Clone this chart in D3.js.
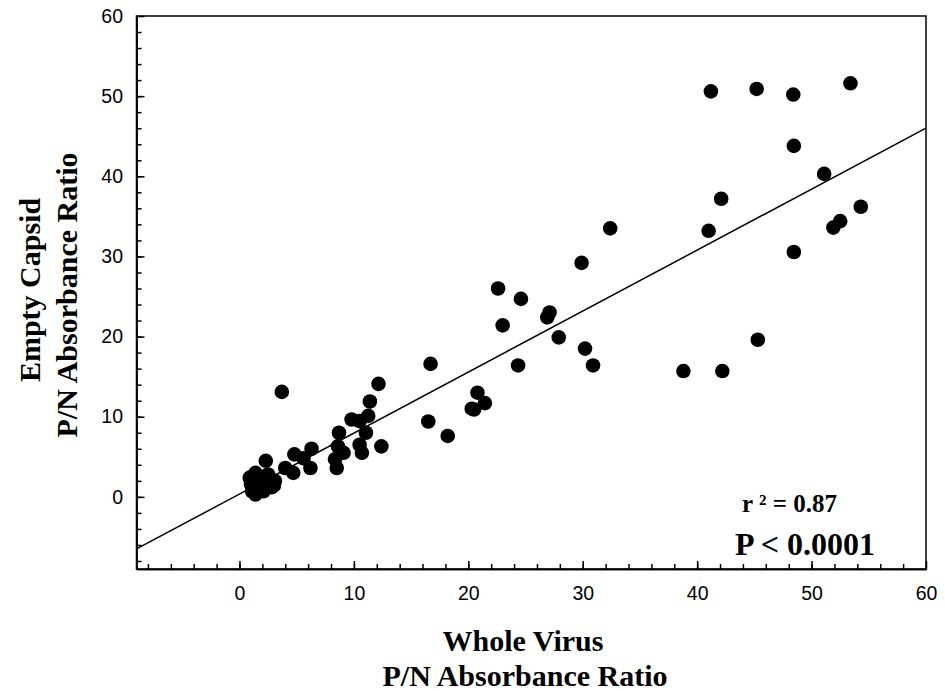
<!DOCTYPE html>
<html>
<head>
<meta charset="utf-8">
<script src="https://cdn.jsdelivr.net/npm/d3@7"></script>
<style>
  body { margin: 0; background: #fff; }
  .tick text { font-family: "Liberation Sans", Arial, sans-serif; font-size: 19.5px; fill: #000; }
  .title { font-family: "Liberation Serif", "Times New Roman", serif; font-weight: bold; fill: #000; }
</style>
</head>
<body>
<div id="chart"></div>
<script>
// whole virus P/N ratio (x) vs empty capsid P/N ratio (y)
var wholeVirus = [
  0.9, 1.0, 1.1, 1.4, 1.4, 1.8, 2.1, 2.3, 2.5, 2.8, 3.1, 1.2, 1.6, 2.0, 2.4, 3.0,
  4.0, 4.7, 4.8, 5.6, 6.3, 6.2, 3.7,
  8.35, 8.5, 8.6, 8.7, 9.1, 9.8, 10.5, 10.5, 10.7, 11.05, 11.25, 11.4, 12.15, 12.4,
  16.5, 16.7, 18.2, 20.3, 20.5, 20.8, 21.45,
  22.6, 23.0, 24.35, 24.6, 26.9, 27.1, 27.9, 29.9, 30.2, 30.9, 32.4,
  38.8, 41.0, 41.2, 42.1, 42.2, 45.2, 45.3, 48.4, 48.45, 48.45, 51.1, 51.9, 52.5, 53.4, 54.3
]
var emptyCapsid = [
  2.4, 1.6, 0.7, 0.3, 3.0, 2.0, 0.7, 4.5, 2.8, 1.2, 2.0, 1.2, 1.6, 1.3, 2.2, 1.4,
  3.6, 3.0, 5.3, 4.8, 6.0, 3.6, 13.1,
  4.7, 3.6, 6.3, 8.0, 5.5, 9.65, 9.45, 6.5, 5.5, 8.0, 10.1, 11.9, 14.1, 6.3,
  9.4, 16.6, 7.6, 11.0, 10.9, 13.0, 11.7,
  26.0, 21.4, 16.4, 24.7, 22.4, 23.0, 19.9, 29.2, 18.5, 16.4, 33.5,
  15.7, 33.2, 50.6, 37.2, 15.7, 50.9, 19.6, 50.2, 43.8, 30.55, 40.3, 33.6, 34.4, 51.6, 36.2
]
var majorTicks = [0, 10, 20, 30, 40, 50, 60]
var minorTicks = d3.range(-8, 60, 2)
var fitSlope = 0.761
var fitIntercept = 0.35
var statLines = ["r \u00B2 = 0.87", "P < 0.0001"]

var width = 945, height = 691
var svg = d3.select("#chart").append("svg").attr("width", width).attr("height", height)

var x = d3.scaleLinear().domain([-9, 60]).range([136.5, 926])
var y = d3.scaleLinear().domain([-9, 60]).range([569, 16])

// minor ticks first, majors on top
svg.append("g").attr("transform", "translate(0,569)")
  .call(d3.axisBottom(x).tickValues(minorTicks).tickSize(-5).tickSizeOuter(0).tickFormat(""))
svg.append("g").attr("transform", "translate(136.5,0)")
  .call(d3.axisLeft(y).tickValues(minorTicks).tickSize(-5).tickSizeOuter(0).tickFormat(""))

svg.append("g").attr("transform", "translate(0,569)")
  .call(d3.axisBottom(x).tickValues(majorTicks).tickSize(-8).tickSizeOuter(0).tickPadding(17))
svg.append("g").attr("transform", "translate(136.5,0)")
  .call(d3.axisLeft(y).tickValues(majorTicks).tickSize(-8).tickSizeOuter(0).tickPadding(13.5))

svg.selectAll(".domain, .tick line").attr("stroke", "#000").attr("stroke-width", 1.5)

// box around the plot
svg.append("rect")
  .attr("x", x(-9)).attr("y", y(60))
  .attr("width", x(60) - x(-9)).attr("height", y(-9) - y(60))
  .attr("fill", "none").attr("stroke", "#000").attr("stroke-width", 1.5)

// regression line
svg.append("line")
  .attr("x1", x(-9)).attr("y1", y(fitSlope * -9 + fitIntercept))
  .attr("x2", x(60)).attr("y2", y(fitSlope * 60 + fitIntercept))
  .attr("stroke", "#000").attr("stroke-width", 1.5)

svg.selectAll(".dot")
  .data(wholeVirus)
  .enter().append("circle")
  .attr("class", "dot")
  .attr("cx", function(d) { return x(d) })
  .attr("cy", function(d, i) { return y(emptyCapsid[i]) })
  .attr("r", 7.3)
  .attr("fill", "#000")

// stats
svg.append("text").attr("class", "title").attr("x", 742).attr("y", 512)
  .attr("font-size", "25px").text(statLines[0])
svg.append("text").attr("class", "title").attr("x", 735).attr("y", 555)
  .attr("font-size", "32px").text(statLines[1])

// axis titles
svg.append("text").attr("class", "title").attr("text-anchor", "middle")
  .attr("x", 523).attr("y", 651).attr("font-size", "30px").text("Whole Virus")
svg.append("text").attr("class", "title").attr("text-anchor", "middle")
  .attr("x", 525).attr("y", 686).attr("font-size", "30px").text("P/N Absorbance Ratio")

svg.append("text").attr("class", "title").attr("text-anchor", "middle")
  .attr("transform", "translate(40,290) rotate(-90)").attr("font-size", "30px").text("Empty Capsid")
svg.append("text").attr("class", "title").attr("text-anchor", "middle")
  .attr("transform", "translate(77,295) rotate(-90)").attr("font-size", "30px").text("P/N Absorbance Ratio")
</script>
</body>
</html>
